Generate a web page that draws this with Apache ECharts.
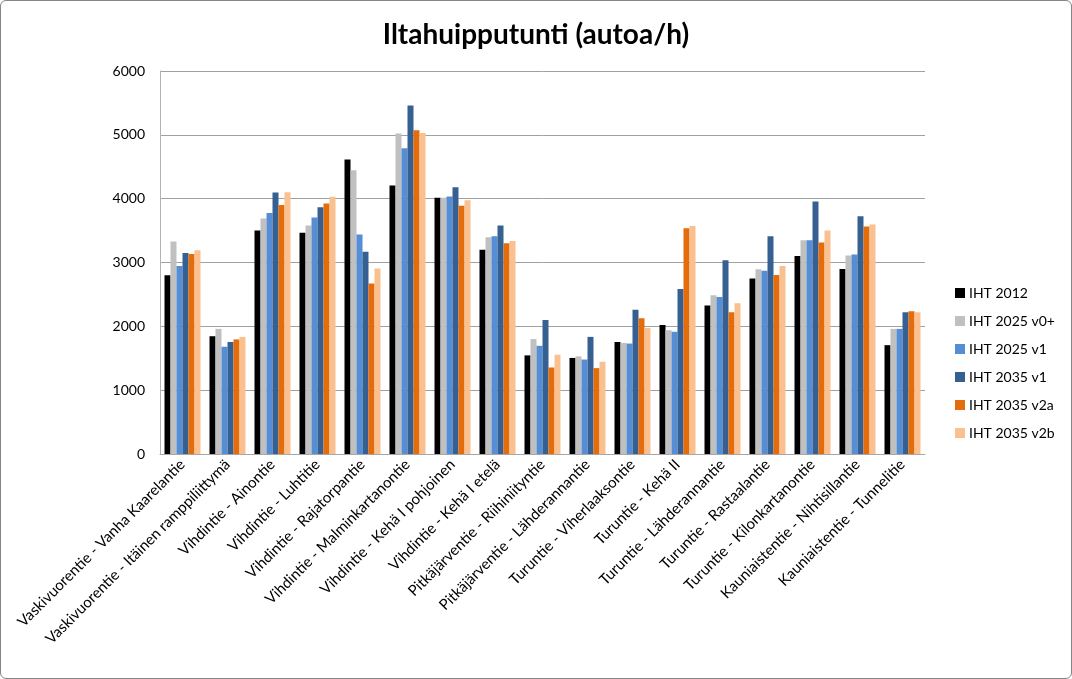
<!DOCTYPE html>
<html><head><meta charset="utf-8">
<script src="https://cdn.jsdelivr.net/npm/echarts@6/dist/echarts.min.js"></script>
<style>
html,body{margin:0;padding:0;background:#fff;}
#frame{position:absolute;left:0;top:0;width:1070px;height:677px;border:1px solid #868686;border-radius:6px;}
#chart{position:absolute;left:0;top:0;width:1072px;height:679px;}
</style></head>
<body>
<div id="frame"></div>
<div id="chart"></div>
<script>
const categories = [
  "Vaskivuorentie - Vanha Kaarelantie",
  "Vaskivuorentie - Itäinen ramppiliittymä",
  "Vihdintie - Ainontie",
  "Vihdintie - Luhtitie",
  "Vihdintie - Rajatorpantie",
  "Vihdintie - Malminkartanontie",
  "Vihdintie - Kehä I pohjoinen",
  "Vihdintie - Kehä I etelä",
  "Pitkäjärventie - Riihiniityntie",
  "Pitkäjärventie - Lähderannantie",
  "Turuntie - Viherlaaksontie",
  "Turuntie - Kehä II",
  "Turuntie - Lähderannantie",
  "Turuntie - Rastaalantie",
  "Turuntie - Kilonkartanontie",
  "Kauniaistentie - Nihtisillantie",
  "Kauniaistentie - Tunnelitie"
];
const iht2012   = [2800, 1845, 3500, 3465, 4615, 4205, 4015, 3200, 1545, 1505, 1755, 2020, 2325, 2750, 3100, 2900, 1705];
const iht2025v0 = [3330, 1960, 3690, 3580, 4445, 5020, 4015, 3395, 1800, 1530, 1740, 1940, 2485, 2895, 3350, 3110, 1960];
const iht2025v1 = [2945, 1680, 3775, 3705, 3440, 4790, 4035, 3410, 1695, 1480, 1730, 1915, 2460, 2870, 3350, 3125, 1960];
const iht2035v1 = [3150, 1755, 4095, 3865, 3170, 5460, 4180, 3580, 2100, 1835, 2260, 2585, 3035, 3410, 3955, 3725, 2220];
const iht2035v2a= [3135, 1795, 3900, 3925, 2670, 5070, 3890, 3300, 1355, 1345, 2125, 3535, 2220, 2805, 3315, 3565, 2235];
const iht2035v2b= [3190, 1835, 4100, 4030, 2905, 5030, 3975, 3335, 1555, 1445, 1975, 3570, 2360, 2945, 3500, 3595, 2220];
const seriesNames = ["IHT 2012", "IHT 2025 v0+", "IHT 2025 v1", "IHT 2035 v1", "IHT 2035 v2a", "IHT 2035 v2b"];
const seriesData = [iht2012, iht2025v0, iht2025v1, iht2035v1, iht2035v2a, iht2035v2b];
const colors = ["#000000", "#c0c0c0", "#558ed5", "#376092", "#e46c0a", "#fac090"];

const chart = echarts.init(document.getElementById('chart'), null, {renderer:'canvas'});
const font = "Lato, 'Open Sans', sans-serif";
chart.setOption({
  animation:false,
  color: colors,
  title:{text:"Iltahuipputunti (autoa/h)", left:'center', top:16,
    textStyle:{fontFamily:font, fontSize:28, fontWeight:'bold', color:'#000'}},
  legend:{orient:'vertical', left:950, top:281, itemWidth:10, itemHeight:10, itemGap:14,
    icon:'rect', data:seriesNames,
    textStyle:{fontFamily:font, fontSize:14, color:'#000', padding:[0,0,0,-1]}},
  grid:{left:160, right:147, top:71, bottom:225, containLabel:false},
  xAxis:{type:'category', data:categories,
    axisLine:{lineStyle:{color:'#a6a6a6'}},
    axisTick:{show:false},
    axisLabel:{rotate:45, interval:0, margin:8, fontFamily:font, fontSize:15, color:'#000'}},
  yAxis:{type:'value', min:0, max:6000, interval:1000,
    axisLine:{show:true, lineStyle:{color:'#b4b4b4'}},
    axisTick:{show:false},
    splitLine:{lineStyle:{color:'#a0a0a0'}},
    axisLabel:{fontFamily:font, fontSize:14, color:'#000', margin:15, formatter:v=>String(v)}},
  series: seriesNames.map((n,i)=>({name:n, type:'bar', data:seriesData[i],
    barGap:'0%', barCategoryGap:'20%', itemStyle:{color:colors[i]}}))
});
</script>
</body></html>
